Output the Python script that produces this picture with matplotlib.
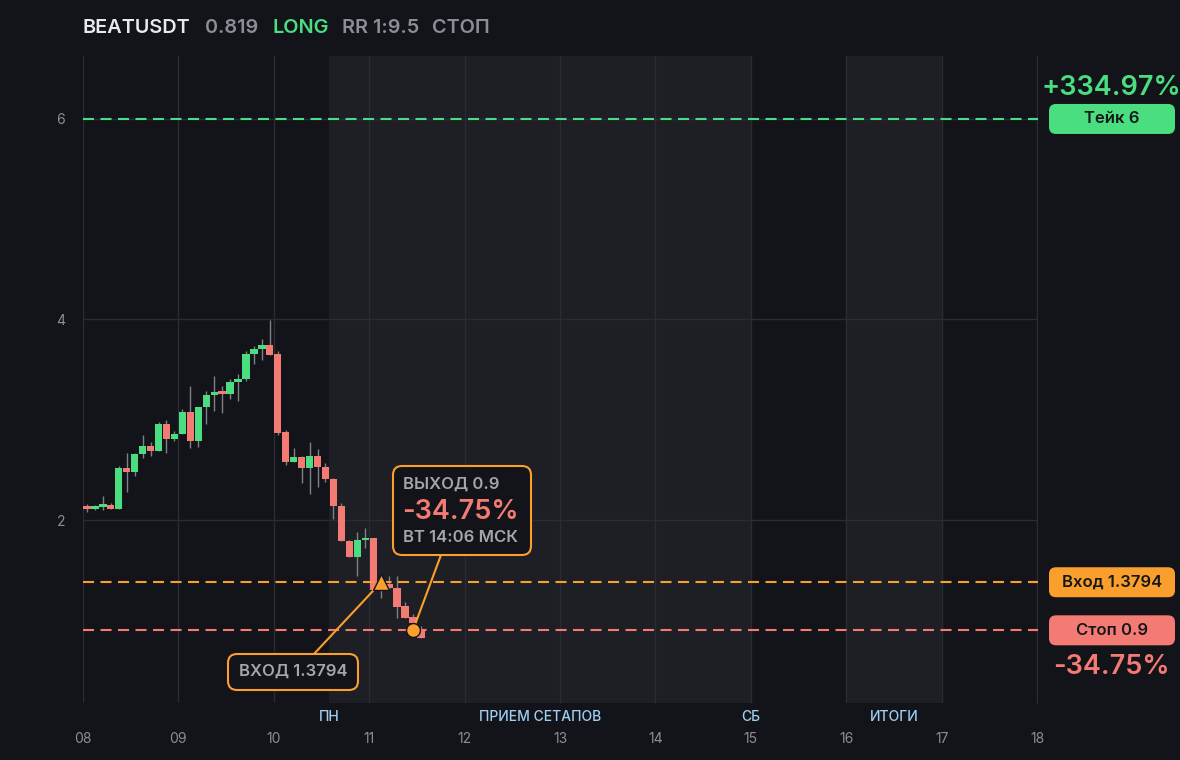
import matplotlib
matplotlib.use('Agg')
import matplotlib.pyplot as plt
from matplotlib.patches import FancyBboxPatch
from matplotlib.transforms import IdentityTransform, blended_transform_factory

plt.rcParams['font.family'] = ['Inter', 'DejaVu Sans']

# --- data ---
symbol = 'BEATUSDT'
last_price = '0.819'
side = 'LONG'
rr_text = 'RR 1:9.5'
status = 'СТОП'

bar_hours = 2
opens = [2.13, 2.11, 2.13, 2.15, 2.11, 2.52, 2.48, 2.66, 2.74, 2.69,
         2.96, 2.81, 2.86, 3.08, 2.79, 3.13, 3.25, 3.28, 3.26, 3.38,
         3.41, 3.66, 3.71, 3.75, 3.66, 2.88, 2.58, 2.63, 2.52, 2.64,
         2.53, 2.41, 2.14, 1.79, 1.63, 1.80, 1.82, 1.30, 1.36, 1.32,
         1.14, 1.03, 0.91]
highs = [2.16, 2.15, 2.24, 2.17, 2.54, 2.67, 2.67, 2.85, 2.78, 2.98,
         3.00, 2.89, 3.11, 3.34, 3.13, 3.29, 3.44, 3.34, 3.41, 3.46,
         3.69, 3.74, 3.81, 3.99, 3.69, 2.90, 2.72, 2.64, 2.78, 2.71,
         2.57, 2.42, 2.17, 1.80, 1.88, 1.92, 1.82, 1.44, 1.44, 1.44,
         1.18, 1.06, 0.94]
lows = [2.08, 2.10, 2.10, 2.11, 2.11, 2.28, 2.44, 2.62, 2.64, 2.69,
        2.67, 2.79, 2.86, 2.72, 2.73, 2.96, 3.09, 3.07, 3.21, 3.19,
        3.39, 3.56, 3.60, 3.65, 2.85, 2.55, 2.58, 2.37, 2.26, 2.33,
        2.38, 2.01, 1.79, 1.63, 1.44, 1.72, 1.30, 1.22, 1.31, 1.02,
        1.02, 0.97, 0.82]
closes = [2.11, 2.13, 2.15, 2.11, 2.52, 2.48, 2.66, 2.74, 2.69, 2.96,
          2.81, 2.86, 3.08, 2.79, 3.13, 3.25, 3.28, 3.26, 3.38, 3.41,
          3.66, 3.71, 3.75, 3.65, 2.87, 2.58, 2.63, 2.52, 2.64, 2.53,
          2.41, 2.14, 1.79, 1.63, 1.80, 1.82, 1.30, 1.36, 1.32, 1.13,
          1.02, 0.97, 0.819]

day_labels = ['08', '09', '10', '11', '12', '13', '14', '15', '16', '17', '18']
y_ticks = [2, 4, 6]

take_price = 6
entry_price = 1.3794
stop_price = 0.9
entry_bar = 37
exit_bar = 41
take_pct = '+334.97%'
stop_pct = '-34.75%'
take_label = 'Тейк 6'
entry_label = 'Вход 1.3794'
stop_label = 'Стоп 0.9'
entry_note = 'ВХОД 1.3794'
exit_note = ['ВЫХОД 0.9', '-34.75%', 'ВТ 14:06 МСК']

# session shading (days from the 08th) and their captions
sessions = [(2.583, 7.0), (8.0, 9.0)]
session_names = ['ПН', 'ПРИЕМ СЕТАПОВ', 'СБ', 'ИТОГИ']
session_name_x = [2.583, 4.79, 7.0, 8.5]

# --- style ---
bg = '#131419'
shade = '#1e1f24'
grid_c = '#2a2c33'
green = '#4ade80'
red = '#f47a74'
orange = '#fb9f2c'
muted = '#8b8e96'
note_c = '#a3a6ad'
wick_c = '#7d8088'
blue_lbl = '#9fcff2'

W, H = 1180, 760
fig = plt.figure(figsize=(W / 100, H / 100), dpi=100, facecolor=bg)
L, R, T, B = 83, 1037, 56, 703
ax = fig.add_axes([L / W, 1 - B / H, (R - L) / W, (B - T) / H])
ax.set_facecolor(bg)

step = bar_hours / 24
xs = [(i + 0.5) * step for i in range(len(opens))]

for a, b in sessions:
    ax.axvspan(a, b, color=shade, lw=0, zorder=0)

ax.set_xlim(0, len(day_labels) - 1)
ax.set_ylim(0.175, 6.628)
ax.set_xticks(range(len(day_labels)))
ax.set_xticklabels(day_labels)
ax.set_yticks(y_ticks)
ax.grid(True, color=grid_c, lw=1, zorder=1)
ax.tick_params(axis='both', length=0, colors=muted, labelsize=10)
ax.tick_params(axis='x', pad=21)
ax.tick_params(axis='y', pad=13)
for s in ['top', 'left', 'bottom']:
    ax.spines[s].set_visible(False)
ax.spines['right'].set_color(grid_c)

# candles
ax.vlines(xs, lows, highs, color=wick_c, lw=1, zorder=2)
for x, o, c in zip(xs, opens, closes):
    col = green if c >= o else red
    h = max(abs(c - o), 0.025)
    ax.bar(x, h, bottom=min(o, c), width=step * 0.92, color=col, lw=0, zorder=3)

# level lines
dash = (0, (5.3, 3.1))
levels = [(take_price, green), (entry_price, orange), (stop_price, red)]
bt = blended_transform_factory(ax.transAxes, ax.transData)
for lvl, col in levels:
    ax.axhline(lvl, color=col, ls=dash, lw=1.5, zorder=4)
    ax.plot([0.995, 1.0], [lvl, lvl], color=col, lw=1.5, transform=bt, clip_on=False, zorder=5)

# entry / exit markers
ax.plot(xs[entry_bar], entry_price, marker='^', ms=11, color=orange, mec=bg, mew=1, zorder=6)
ax.plot(xs[exit_bar], stop_price, marker='o', ms=10, color=orange, mec=bg, mew=1, zorder=6)

# session captions
bx = blended_transform_factory(ax.transData, ax.transAxes)
for name, x in zip(session_names, session_name_x):
    ax.text(x, -0.0216, name, transform=bx, ha='center', va='center',
            color=blue_lbl, fontsize=10, fontweight='medium')

# title
title_parts = [(symbol, '#e8e9ec', 83), (last_price, muted, 205), (side, green, 272),
               (rr_text, muted, 342), (status, muted, 432)]
for txt, col, px in title_parts:
    fig.text(px / W, 1 - 28 / H, txt, color=col, fontsize=14.3, fontweight='semibold',
             ha='left', va='center')

ident = IdentityTransform()


def level_px(v):
    return ax.transData.transform((0, v))[1]


def right_box(v, label, col):
    yc = level_px(v)
    box = FancyBboxPatch((1049, yc - 15), 126, 30, boxstyle='round,pad=0,rounding_size=7',
                         fc=col, ec='none', transform=ident, zorder=10)
    fig.add_artist(box)
    fig.text(1112 / W, yc / H, label, color='#15171b', fontsize=12, fontweight='semibold',
             ha='center', va='center', zorder=11)


right_box(take_price, take_label, green)
right_box(entry_price, entry_label, orange)
right_box(stop_price, stop_label, red)
fig.text(1111 / W, (level_px(take_price) + 31) / H, take_pct, color=green, fontsize=19.5,
         fontweight='semibold', ha='center', va='center')
fig.text(1111 / W, (level_px(stop_price) - 37) / H, stop_pct, color=red, fontsize=19.5,
         fontweight='semibold', ha='center', va='center')


def note_box(x0, y0, x1, y1):
    box = FancyBboxPatch((x0, H - y1), x1 - x0, y1 - y0, boxstyle='round,pad=0,rounding_size=9',
                         fc=bg, ec=orange, lw=1.5, transform=ident, zorder=10)
    fig.add_artist(box)


# entry note with leader line
ax.annotate('', xy=(xs[entry_bar], entry_price), xytext=(313, H - 655),
            textcoords='figure pixels',
            arrowprops=dict(arrowstyle='-', color=orange, lw=1.5, shrinkA=0, shrinkB=5), zorder=5)
note_box(228, 654, 358, 690)
fig.text(293 / W, 1 - 671 / H, entry_note, color=note_c, fontsize=12, fontweight='semibold',
         ha='center', va='center', zorder=11)

# exit note with leader line
ax.annotate('', xy=(xs[exit_bar], stop_price), xytext=(441, H - 555),
            textcoords='figure pixels',
            arrowprops=dict(arrowstyle='-', color=orange, lw=1.5, shrinkA=0, shrinkB=4), zorder=5)
note_box(393, 466, 531, 555)
fig.text(403 / W, 1 - 484 / H, exit_note[0], color=note_c, fontsize=12, fontweight='semibold',
         ha='left', va='center', zorder=11)
fig.text(402 / W, 1 - 512 / H, exit_note[1], color=red, fontsize=19.5, fontweight='semibold',
         ha='left', va='center', zorder=11)
fig.text(403 / W, 1 - 537 / H, exit_note[2], color=note_c, fontsize=12, fontweight='semibold',
         ha='left', va='center', zorder=11)

fig.savefig('out.png', dpi=100, facecolor=bg)
